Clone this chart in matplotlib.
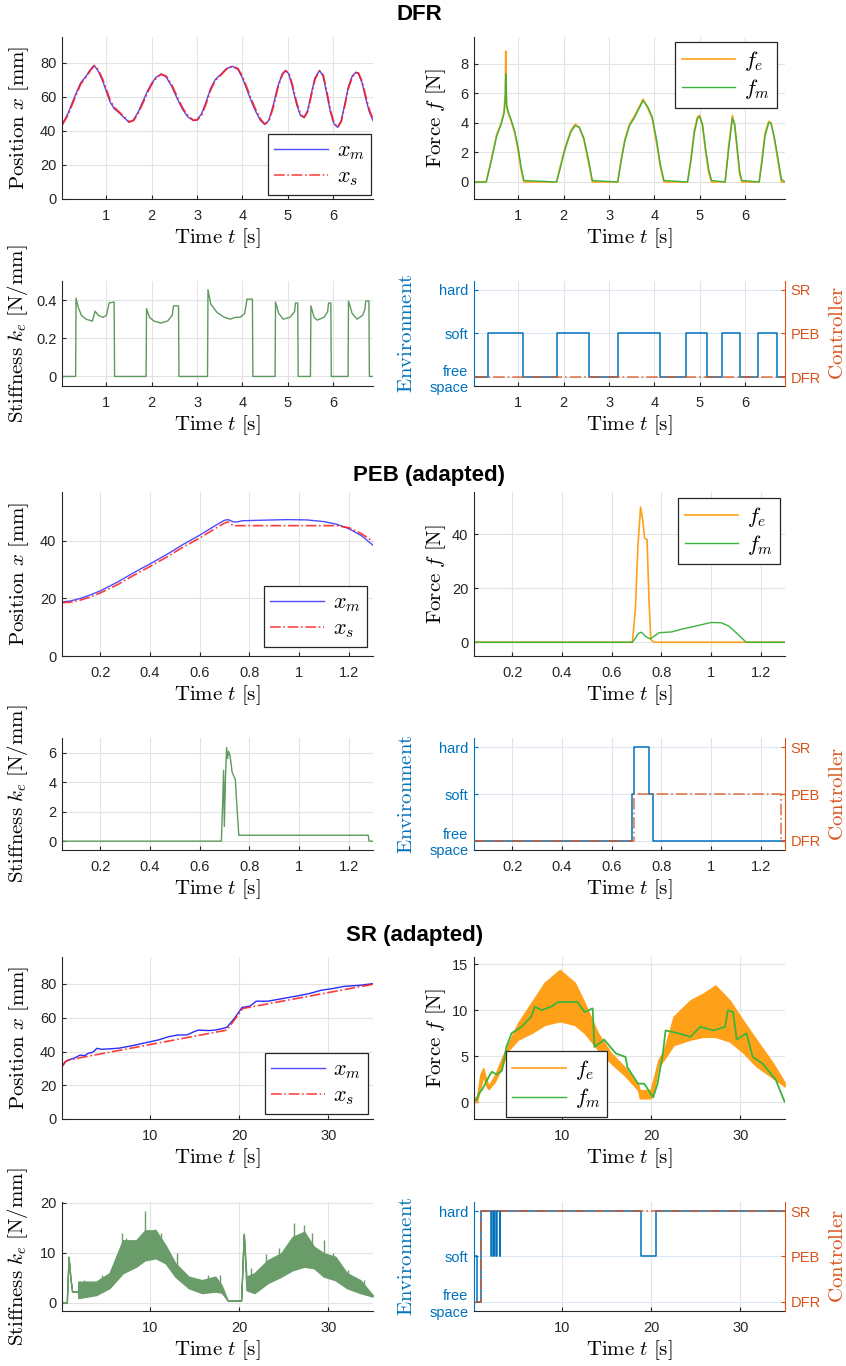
import matplotlib
matplotlib.use("agg")
import matplotlib.pyplot as plt
import numpy as np
from matplotlib.lines import Line2D

plt.rcParams['font.family'] = ['Liberation Sans', 'DejaVu Sans']
plt.rcParams['mathtext.fontset'] = 'cm'

# ---------------------------------------------------------------- DFR data
t_dfr = [0.02, 0.15, 0.30, 0.43, 0.55, 0.65, 0.73, 0.82, 0.92, 1.00,
         1.08, 1.17, 1.28, 1.40, 1.50, 1.60, 1.70, 1.80, 1.90, 2.00,
         2.10, 2.21, 2.32, 2.44, 2.56, 2.68, 2.80, 2.92, 3.00, 3.10,
         3.20, 3.30, 3.40, 3.52, 3.65, 3.78, 3.90, 4.00, 4.10, 4.20,
         4.30, 4.40, 4.49, 4.58, 4.68, 4.78, 4.88, 4.95, 5.02, 5.10,
         5.20, 5.28, 5.36, 5.44, 5.52, 5.60, 5.70, 5.78, 5.86, 5.94,
         6.02, 6.10, 6.18, 6.26, 6.34, 6.42, 6.50, 6.56, 6.64, 6.72,
         6.80, 6.88]
xm_dfr = [43.5, 50.0, 60.0, 68.0, 72.0, 76.0, 78.3, 75.0, 69.0, 63.0,
          57.0, 53.0, 50.5, 47.5, 45.0, 46.5, 51.0, 57.0, 63.0, 68.0,
          71.5, 73.2, 71.5, 66.0, 59.0, 52.5, 48.0, 46.0, 46.5, 50.0,
          57.0, 65.0, 70.0, 73.0, 76.5, 77.8, 76.0, 71.0, 64.0, 57.0,
          51.0, 46.0, 43.7, 46.0, 55.0, 66.0, 73.5, 75.3, 73.5, 66.0,
          55.0, 49.0, 47.8, 52.0, 62.0, 71.0, 75.3, 72.0, 62.0, 51.0,
          44.0, 42.0, 46.0, 56.0, 66.0, 72.0, 74.2, 73.5, 68.0, 59.0,
          51.0, 46.0]
xs_dfr = [43.2, 49.2, 59.0, 67.3, 71.5, 75.5, 78.2, 75.8, 70.0, 64.2,
          58.0, 53.8, 51.0, 48.0, 45.2, 46.0, 50.2, 56.0, 62.0, 67.3,
          71.0, 73.2, 72.0, 67.0, 60.0, 53.5, 48.6, 46.2, 46.3, 49.2,
          56.0, 64.0, 69.5, 72.6, 76.2, 77.8, 76.5, 72.0, 65.2, 58.2,
          52.0, 46.8, 44.0, 45.4, 53.8, 65.0, 73.0, 75.2, 74.2, 67.2,
          56.2, 49.8, 47.8, 51.2, 60.8, 70.2, 75.2, 72.8, 63.2, 52.2,
          44.6, 42.0, 45.4, 55.0, 65.0, 71.5, 74.2, 73.8, 69.0, 60.2,
          52.2, 46.8]

t_f_dfr = [0.02, 0.29, 0.40, 0.52, 0.62, 0.68, 0.71, 0.72, 0.74, 0.78,
           0.84, 0.92, 1.00, 1.06, 1.12, 1.84, 1.92, 2.00, 2.08, 2.16,
           2.25, 2.34, 2.44, 2.54, 2.63, 3.19, 3.27, 3.35, 3.45, 3.55,
           3.65, 3.75, 3.85, 3.95, 4.05, 4.13, 4.21, 4.73, 4.80, 4.88,
           4.95, 5.00, 5.06, 5.13, 5.20, 5.26, 5.56, 5.64, 5.72, 5.77,
           5.83, 5.88, 5.93, 6.31, 6.37, 6.44, 6.52, 6.57, 6.64, 6.72,
           6.80, 6.88]
fe_dfr = [0.0, 0.0, 1.5, 3.2, 4.0, 4.7, 6.0, 8.85, 5.0, 4.6,
          4.1, 3.3, 2.0, 0.8, 0.0, 0.0, 1.0, 2.0, 2.8, 3.5,
          3.9, 3.7, 2.9, 1.4, 0.0, 0.0, 1.6, 2.9, 3.9, 4.4,
          5.0, 5.6, 5.0, 4.3, 2.6, 1.0, 0.0, 0.0, 1.5, 3.5,
          4.4, 4.5, 3.8, 2.0, 0.6, 0.0, 0.0, 2.5, 4.5, 3.8,
          2.0, 0.5, 0.0, 0.0, 1.5, 3.3, 4.1, 4.0, 3.0, 1.5,
          0.0, 0.0]
fm_dfr = [0.0, 0.0, 1.4, 3.1, 3.9, 4.6, 5.5, 7.3, 5.2, 4.7,
          4.2, 3.4, 2.2, 1.0, 0.1, 0.0, 0.9, 1.9, 2.7, 3.4,
          3.8, 3.7, 3.0, 1.6, 0.1, 0.0, 1.5, 2.8, 3.8, 4.3,
          4.9, 5.5, 5.1, 4.4, 2.8, 1.2, 0.1, 0.0, 1.3, 3.3,
          4.3, 4.4, 3.9, 2.2, 0.8, 0.1, 0.0, 2.3, 4.3, 3.9,
          2.2, 0.7, 0.1, 0.0, 1.3, 3.1, 4.0, 4.0, 3.1, 1.7,
          0.2, 0.0]

t_k_dfr = [0.02, 0.32, 0.33, 0.38, 0.45, 0.55, 0.69, 0.75, 0.82, 0.92,
           1.00, 1.06, 1.17, 1.18, 1.875, 1.885, 1.95, 2.05, 2.20, 2.35,
           2.45, 2.48, 2.59, 2.60, 3.23, 3.24, 3.30, 3.44, 3.60, 3.73,
           3.85, 3.95, 4.05, 4.10, 4.22, 4.23, 4.72, 4.73, 4.80, 4.90,
           5.05, 5.15, 5.17, 5.22, 5.23, 5.50, 5.51, 5.58, 5.65, 5.80,
           5.88, 5.90, 5.95, 5.96, 6.33, 6.34, 6.42, 6.53, 6.65, 6.70,
           6.72, 6.79, 6.80, 6.88]
k_dfr = [0.0, 0.0, 0.41, 0.36, 0.32, 0.30, 0.29, 0.342, 0.32, 0.31,
         0.32, 0.385, 0.39, 0.0, 0.0, 0.355, 0.31, 0.29, 0.28, 0.29,
         0.32, 0.37, 0.37, 0.0, 0.0, 0.455, 0.38, 0.335, 0.31, 0.30,
         0.31, 0.31, 0.33, 0.405, 0.405, 0.0, 0.0, 0.39, 0.33, 0.30,
         0.31, 0.34, 0.385, 0.385, 0.0, 0.0, 0.37, 0.31, 0.295, 0.31,
         0.34, 0.385, 0.385, 0.0, 0.0, 0.395, 0.33, 0.30, 0.32, 0.35,
         0.395, 0.395, 0.0, 0.0]

t_env_dfr = [0.02, 0.32, 1.10, 1.85, 2.55, 3.20, 4.12, 4.70, 5.17, 5.50,
             5.89, 6.29, 6.70, 6.88]
env_dfr = [0, 1, 0, 1, 0, 1, 0, 1, 0, 1, 0, 1, 0, 0]
t_ctrl_dfr = [0.02, 6.88]
ctrl_dfr = [0, 0]

# ---------------------------------------------------------------- PEB data
t_x_peb = [0.047, 0.08, 0.12, 0.16, 0.20, 0.27, 0.33, 0.40, 0.47, 0.53,
           0.60, 0.66, 0.70, 0.715, 0.735, 0.75, 0.77, 0.85, 0.95, 1.03,
           1.10, 1.15, 1.20, 1.25, 1.296]
xm_peb = [18.8, 19.1, 20.0, 21.2, 22.6, 25.7, 28.7, 32.0, 35.4, 38.6,
          42.0, 45.2, 47.2, 47.4, 46.6, 46.6, 47.0, 47.2, 47.4, 47.3,
          46.7, 45.8, 44.2, 41.8, 38.5]
xs_peb = [18.5, 18.7, 19.4, 20.5, 21.9, 24.8, 27.8, 31.1, 34.5, 37.7,
          41.0, 44.2, 46.2, 46.6, 45.3, 45.3, 45.3, 45.3, 45.3, 45.3,
          45.3, 45.3, 44.6, 42.5, 39.8]

t_f_peb = [0.047, 0.683, 0.695, 0.705, 0.716, 0.725, 0.732, 0.742, 0.750, 0.757,
           0.770, 0.790, 0.820, 0.840, 0.880, 0.920, 0.975, 1.000, 1.040, 1.070,
           1.100, 1.140, 1.296]
fe_peb = [0.0, 0.0, 12.0, 35.0, 50.0, 45.0, 38.5, 38.0, 15.0, 1.0,
          0.0, 0.0, 0.0, 0.0, 0.0, 0.0, 0.0, 0.0, 0.0, 0.0,
          0.0, 0.0, 0.0]
fm_peb = [0.0, 0.0, 1.5, 3.0, 3.7, 3.3, 2.5, 1.8, 1.4, 1.3,
          2.2, 3.5, 3.7, 3.8, 4.8, 5.6, 6.8, 7.3, 7.2, 6.0,
          3.5, 0.0, 0.0]

t_k_peb = [0.047, 0.687, 0.692, 0.696, 0.699, 0.703, 0.708, 0.712, 0.716, 0.722,
           0.730, 0.737, 0.743, 0.749, 0.757, 1.277, 1.280, 1.296]
k_peb = [0.0, 0.0, 2.5, 4.8, 1.0, 4.0, 6.35, 5.6, 6.1, 5.8,
         4.7, 4.4, 4.2, 2.5, 0.4, 0.4, 0.0, 0.0]

t_env_peb = [0.047, 0.683, 0.690, 0.749, 0.765, 1.296]
env_peb = [0, 1, 2, 1, 0, 0]
t_ctrl_peb = [0.047, 0.690, 1.280, 1.296]
ctrl_peb = [0, 1, 0, 0]

# ---------------------------------------------------------------- SR data
t_x_sr = [0.1, 0.45, 0.8, 1.5, 2.1, 2.6, 3.0, 3.5, 4.0, 4.5,
          5.5, 6.5, 8.0, 10.0, 11.0, 12.0, 13.1, 14.1, 14.8, 15.4,
          16.5, 17.3, 18.0, 18.6, 19.5, 20.3, 21.2, 21.9, 23.2, 25.0,
          26.9, 28.0, 29.2, 30.5, 31.8, 33.5, 35.0]
xm_sr = [31.4, 34.0, 35.0, 36.2, 37.9, 37.5, 38.9, 39.5, 41.9, 41.3,
         41.6, 42.0, 43.5, 45.8, 47.0, 48.7, 49.8, 49.8, 51.5, 52.7,
         52.4, 52.7, 53.5, 54.3, 60.0, 66.1, 66.9, 69.8, 69.8, 71.5,
         73.3, 74.5, 76.3, 77.3, 78.6, 79.2, 80.2]
t_xs_sr = [0.1, 0.45, 0.8, 18.6, 20.4, 35.0]
xs_sr = [31.4, 34.0, 35.0, 52.7, 65.5, 79.8]

t_fe_sr = [0.06, 0.4, 0.77, 1.1, 1.4, 1.7, 2.4, 3.2, 3.9, 5.0,
           6.5, 8.0, 9.7, 11.4, 12.5, 14.0, 15.5, 17.0, 18.5, 18.7,
           19.9, 20.3, 20.8, 21.4, 22.5, 24.4, 25.8, 27.2, 28.8, 30.3,
           31.8, 33.7, 35.0]
fe_hi_sr = [0.4, 0.6, 3.0, 3.7, 2.6, 1.8, 2.9, 4.8, 6.3, 8.6,
            10.8, 13.0, 14.4, 13.0, 10.8, 7.5, 5.3, 3.8, 2.0, 1.3,
            1.3, 2.7, 4.6, 5.6, 9.3, 11.1, 11.8, 12.7, 11.1, 8.9,
            6.8, 4.2, 2.1]
fe_lo_sr = [0.0, 0.0, 1.5, 2.8, 1.8, 1.4, 2.2, 3.8, 5.6, 6.8,
            7.5, 8.4, 8.8, 8.4, 7.5, 5.7, 4.2, 2.9, 1.3, 0.4,
            0.4, 1.3, 3.9, 4.6, 6.2, 6.8, 7.1, 7.1, 6.6, 5.4,
            3.9, 2.6, 1.7]
t_fm_sr = [0.06, 0.3, 0.6, 1.0, 1.34, 1.7, 2.08, 2.6, 3.2, 3.7,
           4.29, 5.4, 6.5, 6.9, 7.65, 8.76, 9.5, 11.7, 12.5, 13.4,
           13.6, 14.7, 16.0, 17.1, 17.3, 18.5, 19.2, 20.2, 20.7, 21.3,
           21.6, 23.0, 24.4, 25.5, 27.0, 28.3, 28.6, 29.2, 29.6, 30.7,
           31.4, 32.5, 34.0, 35.0]
fm_sr = [0.3, 0.2, 0.9, 1.4, 2.0, 2.7, 3.3, 3.0, 3.4, 6.0,
         7.5, 8.2, 9.3, 10.4, 10.0, 10.4, 10.9, 10.9, 9.8, 10.2,
         6.0, 6.8, 5.3, 4.9, 3.8, 2.0, 2.0, 0.5, 2.0, 5.3,
         7.8, 7.5, 7.1, 8.2, 7.8, 8.2, 10.0, 9.8, 6.8, 7.5,
         4.9, 4.2, 2.4, 0.0]

t_k_sr = [0.1, 0.6, 0.8, 1.0, 1.2, 1.85, 1.9, 3.9, 5.4, 6.9,
          8.4, 9.4, 10.6, 11.7, 12.8, 14.3, 15.8, 17.3, 18.0, 18.7,
          20.2, 20.5, 20.8, 21.7, 23.2, 24.7, 26.0, 27.3, 28.4, 29.5,
          30.8, 32.1, 33.6, 35.0]
k_hi_sr = [0.0, 0.0, 9.2, 5.0, 2.2, 2.2, 4.2, 4.2, 5.9, 12.5,
           12.5, 14.5, 14.5, 11.5, 7.9, 5.2, 4.5, 5.2, 3.5, 0.4,
           0.4, 13.8, 5.2, 5.9, 8.5, 9.9, 13.2, 14.2, 11.2, 9.9,
           9.2, 5.9, 4.5, 1.5]
k_lo_sr = [0.0, 0.0, 9.2, 5.0, 2.2, 2.2, 0.9, 1.5, 2.9, 5.9,
           7.2, 8.5, 8.9, 7.9, 5.2, 2.9, 1.9, 2.2, 2.0, 0.4,
           0.4, 13.8, 2.5, 1.9, 3.9, 5.2, 6.5, 7.2, 6.9, 5.2,
           4.5, 2.9, 1.9, 1.2]
# isolated spikes standing out of the noisy stiffness band
t_k_spk = [2.5, 4.6, 6.2, 6.8, 7.3, 8.0, 9.4, 10.5, 11.2, 13.0,
           16.5, 17.8, 21.3, 23.0, 24.5, 26.1, 27.3, 28.2, 29.5, 30.5,
           32.2, 34.0]
k_spk = [4.5, 5.5, 9.0, 14.0, 13.0, 12.0, 18.3, 14.8, 14.0, 10.0,
         5.5, 5.5, 7.0, 9.7, 11.0, 16.0, 15.5, 14.0, 12.5, 10.0,
         6.5, 4.5]

t_env_sr = [0.06, 0.45, 0.9, 2.0, 2.05, 2.27, 2.32, 2.56, 2.61, 2.94,
            2.99, 18.85, 20.5, 35.0]
env_sr = [1, 0, 2, 1, 2, 1, 2, 1, 2, 1, 2, 1, 2, 2]
t_ctrl_sr = [0.06, 0.9, 35.0]
ctrl_sr = [0, 2, 2]

env_labels = ['free\nspace', 'soft', 'hard']
ctrl_labels = ['DFR', 'PEB', 'SR']

# ---------------------------------------------------------------- style
C_XM = '#4d4dff'
C_XS = '#ff1a1a'
C_FE = '#ffa019'
C_FM = '#3cb43c'
C_K = '#5e9a5e'
C_KFILL = '#6a9c6a'
C_ENV = '#0072bd'
C_CTRL = '#d95319'
C_AX = '#262626'
GRID = '#e3e3e3'

W, H = 846, 1366
COLS = [(62, 373), (474, 785)]
ROWS = [(37, 199), (281, 386), (492, 656), (738, 850), (957, 1119), (1202, 1311)]

fig = plt.figure(figsize=(W / 100, H / 100), dpi=100)


def make_ax(col, row):
    x0, x1 = COLS[col]
    y0, y1 = ROWS[row]
    ax = fig.add_axes([x0 / W, 1 - y1 / H, (x1 - x0) / W, (y1 - y0) / H])
    return ax


def style(ax, row, xlim, xticks, ylim, yticks, ylabel, ylab_px):
    ax.set_xlim(xlim)
    ax.set_ylim(ylim)
    ax.set_xticks(xticks)
    ax.set_xticklabels(['%g' % v for v in xticks])
    if yticks is not None:
        ax.set_yticks(yticks)
        ax.set_yticklabels(['%g' % v for v in yticks])
    for s in ['top', 'right']:
        ax.spines[s].set_visible(False)
    for s in ['left', 'bottom']:
        ax.spines[s].set_color(C_AX)
        ax.spines[s].set_linewidth(0.8)
    ax.grid(True, color=GRID, lw=0.8)
    ax.set_axisbelow(True)
    ax.tick_params(direction='in', length=3, labelsize=10.5, colors=C_AX)
    ax.tick_params(axis='x', pad=7)
    ax.tick_params(axis='y', pad=4)
    y0, y1 = ROWS[row]
    ax.set_xlabel(r'$\mathrm{Time}\ t\ [\mathrm{s}]$', fontsize=15, va='center')
    ax.xaxis.set_label_coords(0.5, -39 / (y1 - y0))
    if ylabel:
        ax.set_ylabel(ylabel, fontsize=15, va='center')
        x0, x1 = COLS[0] if ylab_px < 400 else COLS[1]
        ax.yaxis.set_label_coords((ylab_px - x0) / (x1 - x0), 0.5)


def legend(ax, handles, labels, loc, anchor):
    leg = ax.legend(handles, labels, loc=loc, bbox_to_anchor=anchor,
                    borderaxespad=0, fontsize=16, fancybox=False,
                    edgecolor=C_AX, framealpha=1, handlelength=2.4,
                    labelspacing=0.2, borderpad=0.3, handletextpad=0.4)
    leg.get_frame().set_linewidth(0.9)


def env_plot(ax, row, t_env, env, t_ctrl, ctrl, xlim, xticks):
    ax.step(t_env, env, where='post', color=C_ENV, lw=1.1)
    style(ax, row, xlim, xticks, (-0.2, 2.2), None, None, 0)
    ax.set_yticks([0, 1, 2])
    ax.set_yticklabels(env_labels)
    ax.grid(False)
    ax.grid(True, axis='x', color=GRID, lw=0.8)
    ax.grid(True, axis='y', color='#dbe8f4', lw=0.8)
    ax.spines['left'].set_color(C_ENV)
    ax.tick_params(axis='y', colors=C_ENV)
    ax.set_ylabel(r'$\mathrm{Environment}$', fontsize=15, color=C_ENV, va='center')
    ax.yaxis.set_label_coords((406 - 474) / 311, 0.5)
    ax2 = ax.twinx()
    ax2.step(t_ctrl, ctrl, where='post', color=C_CTRL, ls='-.', lw=1.3, alpha=0.7)
    ax2.set_ylim(-0.2, 2.2)
    ax2.set_yticks([0, 1, 2])
    ax2.set_yticklabels(ctrl_labels)
    for s in ['top', 'left', 'bottom']:
        ax2.spines[s].set_visible(False)
    ax2.spines['right'].set_color(C_CTRL)
    ax2.spines['right'].set_linewidth(0.8)
    ax2.tick_params(direction='in', length=3, labelsize=10.5, colors=C_CTRL, pad=4)
    ax2.set_ylabel(r'$\mathrm{Controller}$', fontsize=15, color=C_CTRL,
                   va='center', rotation=90)
    ax2.yaxis.set_label_coords(1.17, 0.5)


lab_pos = r'$\mathrm{Position}\ x\ [\mathrm{mm}]$'
lab_force = r'$\mathrm{Force}\ f\ [\mathrm{N}]$'
lab_k = r'$\mathrm{Stiffness}\ k_e\ [\mathrm{N/mm}]$'

h_x = [Line2D([], [], color=C_XM, lw=1.0),
       Line2D([], [], color=C_XS, lw=1.2, ls='-.', alpha=0.8)]
h_f = [Line2D([], [], color=C_FE, lw=1.2), Line2D([], [], color=C_FM, lw=1.0)]
lab_x = [r'$x_m$', r'$x_s$']
lab_f = [r'$f_e$', r'$f_m$']

# section titles
for y, txt, x in [(15, 'DFR', 419), (475, 'PEB (adapted)', 429), (935, 'SR (adapted)', 415)]:
    fig.text(x / W, 1 - y / H, txt, ha='center', va='center',
             fontsize=16, fontweight='bold')

# ---------------------------------------------------------------- DFR
xl = (0.02, 6.88)
xt = [1, 2, 3, 4, 5, 6]
ax = make_ax(0, 0)
ax.plot(t_dfr, xm_dfr, color=C_XM, lw=1.0)
ax.plot(t_dfr, xs_dfr, color=C_XS, lw=1.3, ls='-.', alpha=0.85)
style(ax, 0, xl, xt, (0, 95), [0, 20, 40, 60, 80], lab_pos, 19)
legend(ax, h_x, lab_x, 'lower right', (0.994, 0.025))

ax = make_ax(1, 0)
ax.plot(t_f_dfr, fe_dfr, color=C_FE, lw=1.2)
ax.plot(t_f_dfr, fm_dfr, color=C_FM, lw=1.0)
style(ax, 0, xl, xt, (-1.15, 9.8), [0, 2, 4, 6, 8], lab_force, 436)
legend(ax, h_f, lab_f, 'upper right', (0.974, 0.969))

ax = make_ax(0, 1)
ax.plot(t_k_dfr, k_dfr, color=C_K, lw=1.0)
style(ax, 1, xl, xt, (-0.05, 0.5), [0, 0.2, 0.4], lab_k, 18)

ax = make_ax(1, 1)
env_plot(ax, 1, t_env_dfr, env_dfr, t_ctrl_dfr, ctrl_dfr, xl, xt)

# ---------------------------------------------------------------- PEB
xl = (0.047, 1.296)
xt = [0.2, 0.4, 0.6, 0.8, 1.0, 1.2]
ax = make_ax(0, 2)
ax.plot(t_x_peb, xm_peb, color=C_XM, lw=1.0)
ax.plot(t_x_peb, xs_peb, color=C_XS, lw=1.2, ls='-.', alpha=0.85)
style(ax, 2, xl, xt, (0, 57), [0, 20, 40], lab_pos, 19)
legend(ax, h_x, lab_x, 'lower right', (0.981, 0.055))

ax = make_ax(1, 2)
ax.plot(t_f_peb, fe_peb, color=C_FE, lw=1.2)
ax.plot(t_f_peb, fm_peb, color=C_FM, lw=1.0)
style(ax, 2, xl, xt, (-5.1, 55.6), [0, 20, 40], lab_force, 436)
legend(ax, h_f, lab_f, 'upper right', (0.984, 0.963))

ax = make_ax(0, 3)
ax.plot(t_k_peb, k_peb, color=C_K, lw=1.0)
style(ax, 3, xl, xt, (-0.6, 7.0), [0, 2, 4, 6], lab_k, 18)

ax = make_ax(1, 3)
env_plot(ax, 3, t_env_peb, env_peb, t_ctrl_peb, ctrl_peb, xl, xt)

# ---------------------------------------------------------------- SR
xl = (0.06, 35.03)
xt = [10, 20, 30]
ax = make_ax(0, 4)
ax.plot(t_x_sr, xm_sr, color='#2b2bff', lw=1.0)
ax.plot(t_xs_sr, xs_sr, color=C_XS, lw=1.2, ls='-.', alpha=0.85)
style(ax, 4, xl, xt, (0, 96), [0, 20, 40, 60, 80], lab_pos, 19)
legend(ax, h_x, lab_x, 'lower right', (0.984, 0.031))

ax = make_ax(1, 4)
ax.fill_between(t_fe_sr, fe_lo_sr, fe_hi_sr, color=C_FE, lw=1.0)
ax.plot(t_fm_sr, fm_sr, color=C_FM, lw=1.3)
style(ax, 4, xl, xt, (-1.85, 15.8), [0, 5, 10, 15], lab_force, 436)
legend(ax, h_f, lab_f, 'lower left', (0.102, 0.012))

ax = make_ax(0, 5)
ax.fill_between(t_k_sr, k_lo_sr, k_hi_sr, color=C_KFILL, lw=1.0)
ax.vlines(t_k_spk, np.interp(t_k_spk, t_k_sr, k_lo_sr), k_spk, color=C_KFILL, lw=1.0)
style(ax, 5, xl, xt, (-1.7, 20.2), [0, 10, 20], lab_k, 18)

ax = make_ax(1, 5)
env_plot(ax, 5, t_env_sr, env_sr, t_ctrl_sr, ctrl_sr, xl, xt)

fig.savefig('out.png', dpi=100)
